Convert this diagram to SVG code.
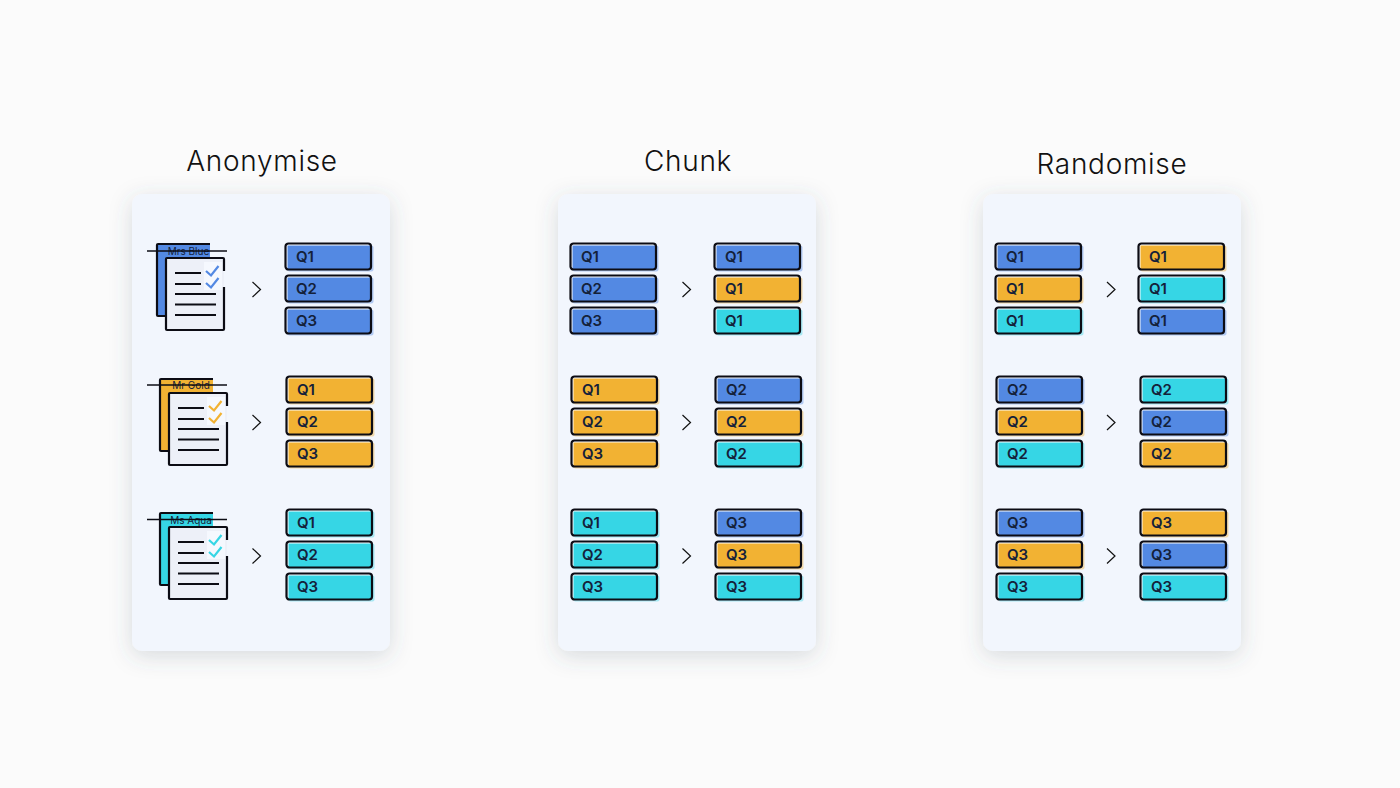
<svg xmlns="http://www.w3.org/2000/svg" width="1400" height="788" viewBox="0 0 1400 788">
<style>
.title{font-family:"Inter","Liberation Sans",sans-serif;font-weight:300;font-size:28px;letter-spacing:0.7px;fill:#111;text-anchor:middle}
.panel{fill:#f2f6fd;filter:url(#sh)}
.q{font-family:"Inter","Liberation Sans",sans-serif;font-weight:600;font-size:15px;fill:#14213a}
.name{font-family:"Inter","Liberation Sans",sans-serif;font-size:10px;fill:#14213a;text-anchor:middle}
.ol{fill:none;stroke:#0c0c14;stroke-width:2.2}
.ln{fill:none;stroke:#0c0c14;stroke-width:2.2}
.ck{fill:none;stroke:currentColor;stroke-width:2.2}
.ar{fill:none;stroke:#111;stroke-width:1.2}
.b{color:#5389e3}.g{color:#f2b233}.a{color:#36d6e5}
</style>
<defs>
<filter id="sh" x="-25%" y="-20%" width="150%" height="140%"><feDropShadow dx="0" dy="5" stdDeviation="11" flood-color="#4a5468" flood-opacity="0.2"/></filter>
<g id="chip">
<rect x="2.500" y="2.500" width="86" height="26" rx="2" fill="currentColor" opacity="0.4"/>
<rect x="1.500" y="1.500" width="84" height="25" fill="#fff"/>
<rect x="2.500" y="2.500" width="83.500" height="24" fill="currentColor"/>
<rect class="ol" x="0.500" y="0.500" width="85.500" height="26" rx="3"/>
</g>
<path id="chev" class="ar" d="M-4-7.5 4 0-4 7.5"/>
<g id="doc">
<path d="M157 244H210V258H167V316H157Z" fill="currentColor"/>
<path class="ln" d="M210 244H158Q157 244 157 245V315Q157 316 158 316H166"/>
<path d="M167 259H224V330H167Z" fill="#edf0f8"/>
<path d="M204 262H222V290H204Z" fill="#f5f8fe"/>
<path class="ln" d="M224 271V259Q224 258 223 258H167Q166 258 166 259V329Q166 330 167 330H223Q224 330 224 329V287"/>
<path class="ln" d="M175 273H201M175 284H201M175 294H216M175 304.500H216M175 315H216"/>
<path class="ck" d="M206 271 211 275.500 218.500 266M206 283 211 287.500 218.500 278"/>
</g>
</defs>
<rect width="1400" height="788" fill="#fbfbfb"/>
<g id="anonymise">
<text class="title" x="262" y="171">Anonymise</text>
<rect class="panel" x="132" y="194" width="258" height="457" rx="10"/>
<g id="a-doc1" class="b"><use href="#doc"/><text class="name" x="188.500" y="255">Mrs Blue</text><path class="ln" style="stroke-width:1.500" d="M147 251H227"/></g>
<g id="a-doc2" class="g"><use href="#doc" x="3" y="135"/><text class="name" x="191" y="389">Mr Gold</text><path class="ln" style="stroke-width:1.500" d="M147 385H227"/></g>
<g id="a-doc3" class="a"><use href="#doc" x="3" y="269"/><text class="name" x="191" y="523.500">Ms Aqua</text><path class="ln" style="stroke-width:1.500" d="M147 519.500H227"/></g>
<g id="a-c1" class="b"><use href="#chip" x="285" y="243"/><text class="q" x="296" y="262">Q1</text></g>
<g id="a-c2" class="b"><use href="#chip" x="285" y="275"/><text class="q" x="296" y="294">Q2</text></g>
<g id="a-c3" class="b"><use href="#chip" x="285" y="307"/><text class="q" x="296" y="326">Q3</text></g>
<g id="a-c4" class="g"><use href="#chip" x="286" y="376"/><text class="q" x="297" y="395">Q1</text></g>
<g id="a-c5" class="g"><use href="#chip" x="286" y="408"/><text class="q" x="297" y="427">Q2</text></g>
<g id="a-c6" class="g"><use href="#chip" x="286" y="440"/><text class="q" x="297" y="459">Q3</text></g>
<g id="a-c7" class="a"><use href="#chip" x="286" y="509"/><text class="q" x="297" y="528">Q1</text></g>
<g id="a-c8" class="a"><use href="#chip" x="286" y="541"/><text class="q" x="297" y="560">Q2</text></g>
<g id="a-c9" class="a"><use href="#chip" x="286" y="573"/><text class="q" x="297" y="592">Q3</text></g>
</g>
<g id="chunk">
<text class="title" x="688" y="171">Chunk</text>
<rect class="panel" x="558" y="194" width="258" height="457" rx="10"/>
<g id="c-l1" class="b"><use href="#chip" x="570" y="243"/><text class="q" x="581" y="262">Q1</text></g>
<g id="c-l2" class="b"><use href="#chip" x="570" y="275"/><text class="q" x="581" y="294">Q2</text></g>
<g id="c-l3" class="b"><use href="#chip" x="570" y="307"/><text class="q" x="581" y="326">Q3</text></g>
<g id="c-l4" class="g"><use href="#chip" x="571" y="376"/><text class="q" x="582" y="395">Q1</text></g>
<g id="c-l5" class="g"><use href="#chip" x="571" y="408"/><text class="q" x="582" y="427">Q2</text></g>
<g id="c-l6" class="g"><use href="#chip" x="571" y="440"/><text class="q" x="582" y="459">Q3</text></g>
<g id="c-l7" class="a"><use href="#chip" x="571" y="509"/><text class="q" x="582" y="528">Q1</text></g>
<g id="c-l8" class="a"><use href="#chip" x="571" y="541"/><text class="q" x="582" y="560">Q2</text></g>
<g id="c-l9" class="a"><use href="#chip" x="571" y="573"/><text class="q" x="582" y="592">Q3</text></g>
<g id="c-r1" class="b"><use href="#chip" x="714" y="243"/><text class="q" x="725" y="262">Q1</text></g>
<g id="c-r2" class="g"><use href="#chip" x="714" y="275"/><text class="q" x="725" y="294">Q1</text></g>
<g id="c-r3" class="a"><use href="#chip" x="714" y="307"/><text class="q" x="725" y="326">Q1</text></g>
<g id="c-r4" class="b"><use href="#chip" x="715" y="376"/><text class="q" x="726" y="395">Q2</text></g>
<g id="c-r5" class="g"><use href="#chip" x="715" y="408"/><text class="q" x="726" y="427">Q2</text></g>
<g id="c-r6" class="a"><use href="#chip" x="715" y="440"/><text class="q" x="726" y="459">Q2</text></g>
<g id="c-r7" class="b"><use href="#chip" x="715" y="509"/><text class="q" x="726" y="528">Q3</text></g>
<g id="c-r8" class="g"><use href="#chip" x="715" y="541"/><text class="q" x="726" y="560">Q3</text></g>
<g id="c-r9" class="a"><use href="#chip" x="715" y="573"/><text class="q" x="726" y="592">Q3</text></g>
</g>
<g id="randomise">
<text class="title" x="1112" y="174">Randomise</text>
<rect class="panel" x="983" y="194" width="258" height="457" rx="10"/>
<g id="r-l1" class="b"><use href="#chip" x="995" y="243"/><text class="q" x="1006" y="262">Q1</text></g>
<g id="r-l2" class="g"><use href="#chip" x="995" y="275"/><text class="q" x="1006" y="294">Q1</text></g>
<g id="r-l3" class="a"><use href="#chip" x="995" y="307"/><text class="q" x="1006" y="326">Q1</text></g>
<g id="r-l4" class="b"><use href="#chip" x="996" y="376"/><text class="q" x="1007" y="395">Q2</text></g>
<g id="r-l5" class="g"><use href="#chip" x="996" y="408"/><text class="q" x="1007" y="427">Q2</text></g>
<g id="r-l6" class="a"><use href="#chip" x="996" y="440"/><text class="q" x="1007" y="459">Q2</text></g>
<g id="r-l7" class="b"><use href="#chip" x="996" y="509"/><text class="q" x="1007" y="528">Q3</text></g>
<g id="r-l8" class="g"><use href="#chip" x="996" y="541"/><text class="q" x="1007" y="560">Q3</text></g>
<g id="r-l9" class="a"><use href="#chip" x="996" y="573"/><text class="q" x="1007" y="592">Q3</text></g>
<g id="r-r1" class="g"><use href="#chip" x="1138" y="243"/><text class="q" x="1149" y="262">Q1</text></g>
<g id="r-r2" class="a"><use href="#chip" x="1138" y="275"/><text class="q" x="1149" y="294">Q1</text></g>
<g id="r-r3" class="b"><use href="#chip" x="1138" y="307"/><text class="q" x="1149" y="326">Q1</text></g>
<g id="r-r4" class="a"><use href="#chip" x="1140" y="376"/><text class="q" x="1151" y="395">Q2</text></g>
<g id="r-r5" class="b"><use href="#chip" x="1140" y="408"/><text class="q" x="1151" y="427">Q2</text></g>
<g id="r-r6" class="g"><use href="#chip" x="1140" y="440"/><text class="q" x="1151" y="459">Q2</text></g>
<g id="r-r7" class="g"><use href="#chip" x="1140" y="509"/><text class="q" x="1151" y="528">Q3</text></g>
<g id="r-r8" class="b"><use href="#chip" x="1140" y="541"/><text class="q" x="1151" y="560">Q3</text></g>
<g id="r-r9" class="a"><use href="#chip" x="1140" y="573"/><text class="q" x="1151" y="592">Q3</text></g>
</g>
<g id="connectors">
<use href="#chev" x="256.500" y="289.500"/><use href="#chev" x="256.500" y="422.500"/><use href="#chev" x="256.500" y="556"/>
<use href="#chev" x="686.500" y="289.500"/><use href="#chev" x="686.500" y="422.500"/><use href="#chev" x="686.500" y="556"/>
<use href="#chev" x="1111" y="289.500"/><use href="#chev" x="1111" y="422.500"/><use href="#chev" x="1111" y="556"/>
</g>
</svg>
